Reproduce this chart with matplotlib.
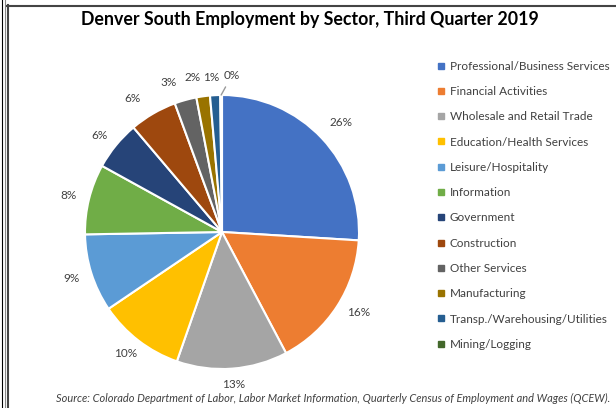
import numpy as np
import matplotlib.pyplot as plt
from matplotlib.lines import Line2D

plt.rcParams['font.family'] = ['Lato', 'DejaVu Sans']

sectors = ["Professional/Business Services", "Financial Activities",
           "Wholesale and Retail Trade", "Education/Health Services",
           "Leisure/Hospitality", "Information", "Government", "Construction",
           "Other Services", "Manufacturing", "Transp./Warehousing/Utilities",
           "Mining/Logging"]
shares = [26.0, 16.3, 13.1, 10.2, 9.2, 8.3, 5.8, 5.6, 2.6, 1.6, 1.2, 0.2]
pct_labels = ["26%", "16%", "13%", "10%", "9%", "8%", "6%", "6%",
              "3%", "2%", "1%", "0%"]
colors = ["#4472C4", "#ED7D31", "#A5A5A5", "#FFC000", "#5B9BD5", "#70AD47",
          "#264478", "#9E480E", "#636363", "#997300", "#255E91", "#43682B"]

W, H = 616, 408
fig = plt.figure(figsize=(W / 100, H / 100), dpi=100)

# pie axes: centre (222, 232) px, radius 137 px
cx, cy, r = 222, 232, 137
ax = fig.add_axes([(cx - r) / W, (H - cy - r) / H, 2 * r / W, 2 * r / H])
wedges, _ = ax.pie(shares, colors=colors, startangle=90, counterclock=False,
                   wedgeprops=dict(edgecolor="white", linewidth=1.5))
ax.set_xlim(-1, 1)
ax.set_ylim(-1, 1)
ax.set_aspect("equal")

# labels sit outside the rim like Excel: gap + half text box in the slice direction
gap, hw, hh = 9, 12, 7
nudge = {0: (4, 5), 1: (4, 2), 7: (-10, 1), 8: (-11, 2), 9: (-8, 3), 10: (-3, 2)}
for i, (w, lab) in enumerate(zip(wedges, pct_labels)):
    ang = np.deg2rad((w.theta1 + w.theta2) / 2)
    c, s = np.cos(ang), np.sin(ang)
    if i == len(wedges) - 1:
        # tiny slice: label pushed aside with a leader line
        ax.annotate(lab, xy=(c, s), xytext=(11, 20), textcoords="offset pixels",
                    ha="center", va="center", fontsize=8.5, color="#404040",
                    annotation_clip=False,
                    arrowprops=dict(arrowstyle="-", color="#999999", lw=1.0,
                                    shrinkA=3, shrinkB=0))
        continue
    dx, dy = nudge.get(i, (0, 0))
    ox = gap * c + hw * c + dx
    oy = gap * s + hh * s + dy
    ax.annotate(lab, xy=(c, s), xytext=(ox, oy), textcoords="offset pixels",
                ha="center", va="center", fontsize=8.5, color="#404040",
                annotation_clip=False)

handles = [Line2D([], [], marker="s", linestyle="", markersize=4.5,
                  markerfacecolor=c, markeredgecolor=c) for c in colors]
fig.legend(handles, sectors, loc="upper left", bbox_to_anchor=(432 / W, 1 - 56 / H),
           frameon=False, fontsize=8.5, labelspacing=1.21, handletextpad=0.3,
           handlelength=0.8, labelcolor="#404040", borderaxespad=0)

fig.text(310 / W, 1 - 20 / H, "Denver South Employment by Sector, Third Quarter 2019",
         ha="center", va="center", fontsize=12.8, fontweight="bold", color="black")
fig.text(610 / W, 1 - 398 / H,
         "Source: Colorado Department of Labor, Labor Market Information, "
         "Quarterly Census of Employment and Wages (QCEW).",
         ha="right", va="center", fontsize=7.9, style="italic", color="#404040")

# frame lines around the chart
fig.add_artist(Line2D([1.5 / W] * 2, [0, 1], transform=fig.transFigure, color="black", lw=0.8))
fig.add_artist(Line2D([4.5 / W] * 2, [0, 1], transform=fig.transFigure, color="#888888", lw=0.8))
fig.add_artist(Line2D([7.5 / W] * 2, [0, 1 - 5 / H], transform=fig.transFigure, color="#444444", lw=1.5))
fig.add_artist(Line2D([7 / W, 1], [1 - 5.5 / H] * 2, transform=fig.transFigure, color="#444444", lw=1.5))

fig.savefig("out.png", dpi=100)
